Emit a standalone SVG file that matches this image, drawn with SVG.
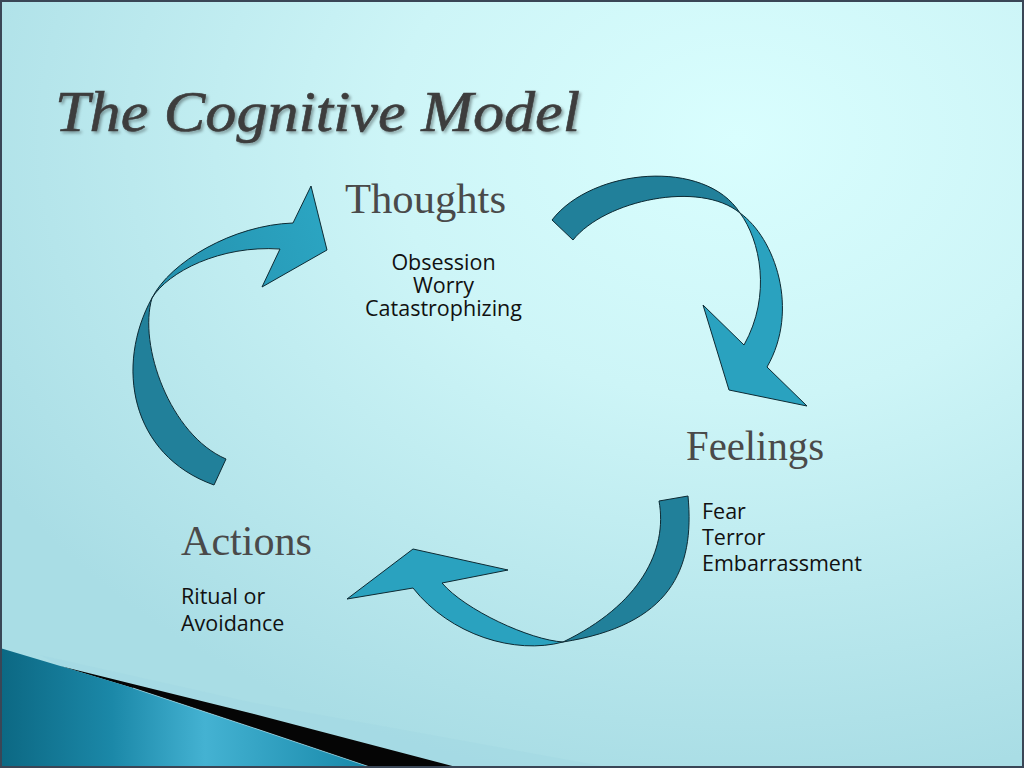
<svg xmlns="http://www.w3.org/2000/svg" width="1024" height="768" viewBox="0 0 1024 768">
  <defs>
    <radialGradient id="bg" cx="0.72" cy="0.18" r="0.85">
      <stop offset="0" stop-color="#d9fefe"/>
      <stop offset="0.4" stop-color="#cdf5f7"/>
      <stop offset="1" stop-color="#a9dde5"/>
    </radialGradient>
    <linearGradient id="teal" x1="0" y1="0" x2="1" y2="0">
      <stop offset="0" stop-color="#0c6883"/>
      <stop offset="0.3" stop-color="#1b88a8"/>
      <stop offset="0.55" stop-color="#44b2d2"/>
      <stop offset="1" stop-color="#1687a8"/>
    </linearGradient>
    <linearGradient id="headGrad1" gradientUnits="userSpaceOnUse" x1="152" y1="298" x2="320" y2="230">
      <stop offset="0" stop-color="#2490ad"/>
      <stop offset="1" stop-color="#2ba4c1"/>
    </linearGradient>
    <filter id="shadow" x="-5%" y="-20%" width="110%" height="140%">
      <feDropShadow dx="2" dy="2" stdDeviation="1.5" flood-color="#000" flood-opacity="0.35"/>
    </filter>
    <style>
      .tail { fill: #21809a; stroke: #0d2a33; stroke-width: 1; stroke-linejoin: miter; }
      .head { fill: #2aa2bf; stroke: #0d2a33; stroke-width: 1; stroke-linejoin: miter; }
      .heading { font-family: "Liberation Serif", "DejaVu Serif", serif; font-size: 42px; fill: #4a4a4a; }
      .item { font-family: "Open Sans", "Liberation Sans", sans-serif; font-size: 21.5px; fill: #111; }
    </style>
  </defs>

  <!-- background -->
  <rect x="0" y="0" width="1024" height="768" fill="url(#bg)"/>
  <polygon points="40,655 250,702 530,753 613,768 460,768 250,713 60,666" fill="#a3d8e2" opacity="0.6"/>
  <polygon points="60,666 250,713 460,768 373,768 260,730 133,688" fill="#050505"/>
  <polygon points="0,648 67,668 133,688 260,730 373,768 0,768" fill="url(#teal)"/>
  <polyline points="133,688 260,730 373,768" fill="none" stroke="#bfeaf2" stroke-width="0.8" opacity="0.7"/>
  <rect x="1" y="1" width="1022" height="766" fill="none" stroke="#3a4656" stroke-width="2"/>

  <!-- title -->
  <text x="55" y="131" font-family="Liberation Serif, DejaVu Serif, serif" font-style="italic" font-size="58" fill="#3d3d3d" stroke="#3d3d3d" stroke-width="0.6" textLength="525" lengthAdjust="spacingAndGlyphs" filter="url(#shadow)">The Cognitive Model</text>

  <!-- connectors -->
  <g id="connectors">
    <g id="arrow-actions-thoughts">
      <path class="tail" d="M214,485 C130,455 115,365 152,298 C138,345 170,435 226,459 Z"/>
      <path class="head" fill="url(#headGrad1)" style="fill:url(#headGrad1)" d="M152,298 C170,262 233,225 293,223 L311,186 L327,250 L262,287 L280,249 C220,245 168,272 152,298 Z"/>
    </g>
    <g id="arrow-thoughts-feelings">
      <path class="tail" d="M552,220 C592,168 705,158 740,213 C700,180 605,200 573,240 Z"/>
      <path class="head" d="M740,213 C775,238 800,310 767,367 L807,406 L729,390 L703,305 L744,345 C772,295 760,240 740,213 Z"/>
    </g>
    <g id="arrow-feelings-actions">
      <path class="tail" d="M688,496 C695,570 670,625 563,642 C640,605 668,550 659,501 Z"/>
      <path class="head" d="M563,642 C515,655 450,635 413,588 L347,599 L413,549 L508,570 L442,583 C465,610 530,640 563,642 Z"/>
    </g>
  </g>

  <!-- nodes -->
  <g id="thoughts">
    <text class="heading" x="345" y="213" textLength="161" lengthAdjust="spacingAndGlyphs">Thoughts</text>
    <text class="item" x="443.5" y="270" text-anchor="middle">Obsession</text>
    <text class="item" x="443.5" y="293" text-anchor="middle">Worry</text>
    <text class="item" x="443.5" y="316" text-anchor="middle">Catastrophizing</text>
  </g>
  <g id="feelings">
    <text class="heading" x="686" y="460" textLength="138" lengthAdjust="spacingAndGlyphs">Feelings</text>
    <text class="item" x="702" y="519">Fear</text>
    <text class="item" x="702" y="545">Terror</text>
    <text class="item" x="702" y="571">Embarrassment</text>
  </g>
  <g id="actions">
    <text class="heading" x="181" y="555" textLength="131" lengthAdjust="spacingAndGlyphs">Actions</text>
    <text class="item" x="181" y="604">Ritual or</text>
    <text class="item" x="181" y="631">Avoidance</text>
  </g>
</svg>
